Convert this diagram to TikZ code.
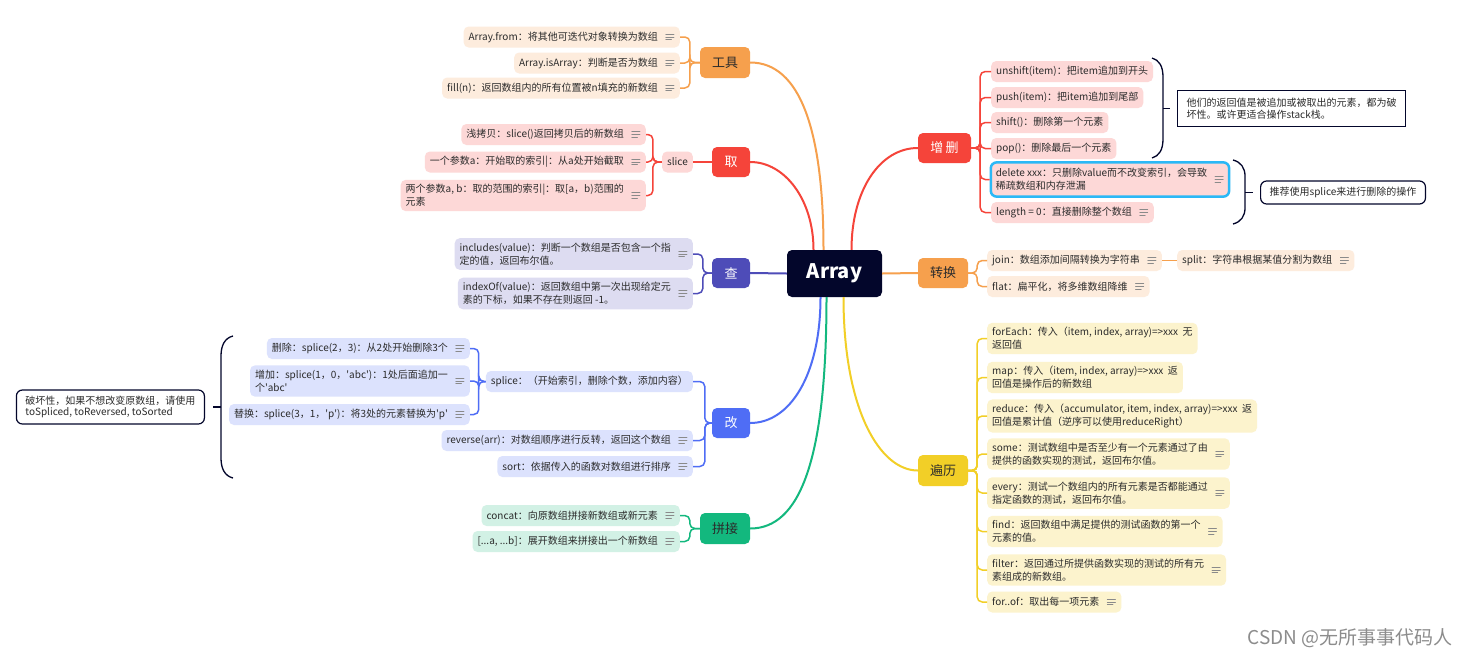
\documentclass[tikz,border=0pt]{standalone}
\usepackage{fontspec}
\setmainfont{Noto Sans CJK SC}
\newfontfamily\qf{Noto Sans CJK SC}
\usetikzlibrary{calc}
\definecolor{navy}{HTML}{03062B}
\definecolor{orgM}{HTML}{F6A04D}
\definecolor{orgL}{HTML}{FDECDD}
\definecolor{redM}{HTML}{F5443A}
\definecolor{redL}{HTML}{FDD8D7}
\definecolor{indM}{HTML}{4E4CB8}
\definecolor{indL}{HTML}{DDDCF1}
\definecolor{bluM}{HTML}{4F6DF5}
\definecolor{bluL}{HTML}{DCE2FD}
\definecolor{grnM}{HTML}{13B87E}
\definecolor{grnL}{HTML}{D2F1E5}
\definecolor{yelM}{HTML}{F2CF27}
\definecolor{yelL}{HTML}{FCF3CD}
\definecolor{cyanB}{HTML}{2BB8F6}
\definecolor{txt}{HTML}{2B2B2B}
\definecolor{icg}{HTML}{8A8A8A}
\newcommand\ico{\hspace*{17pt}}
\newcommand\sq{{\qf'}}
\tikzset{
  mainbox/.style={rounded corners=5pt, minimum height=30pt, inner sep=0pt, font=\fontsize{13}{15}\selectfont},
  item/.style={rounded corners=5pt, align=left, inner xsep=5pt, inner ysep=4.5pt, minimum height=21pt, font=\fontsize{10}{13}\selectfont, text=txt},
  icn/.style={icg, line width=0.9pt, line cap=round},
  ic/.style={path picture={
     \draw[icn] ([xshift=-14pt,yshift=2.7pt]path picture bounding box.east) -- ++(8pt,0pt);
     \draw[icn] ([xshift=-14pt]path picture bounding box.east) -- ++(8pt,0pt);
     \draw[icn] ([xshift=-14pt,yshift=-2.7pt]path picture bounding box.east) -- ++(5.5pt,0pt);}},
  bran/.style={line width=2pt},
  sub/.style={line width=1.5pt, rounded corners=5pt},
  brc/.style={navy, line width=1.3pt},
  note/.style={draw=navy, line width=1.2pt, fill=white, align=left, inner xsep=9pt, inner ysep=4pt, font=\fontsize{10}{11.5}\selectfont, text=txt}
}
\begin{document}
\begin{tikzpicture}[x=1pt,y=-1pt]
\fill[white] (0,0) rectangle (1467,659);
\useasboundingbox (0,0) rectangle (1467,659);

% central and main nodes
\node[mainbox, fill=navy, text=white, minimum width=95pt, minimum height=47pt, font=\fontsize{20}{22}\selectfont\bfseries] (arr) at (834.5,273.5) {Array};
\node[mainbox, fill=orgM, text=txt, minimum width=50pt, minimum height=31pt] (gj) at (725,62.5) {工具};
\node[mainbox, fill=redM, text=white, minimum width=38pt] (qu) at (731,162) {取};
\node[mainbox, fill=indM, text=white, minimum width=38pt] (cha) at (731,273) {查};
\node[mainbox, fill=bluM, text=white, minimum width=38pt] (gai) at (731,423) {改};
\node[mainbox, fill=grnM, text=txt, minimum width=50pt, minimum height=31pt] (pj) at (725,528.5) {拼接};
\node[mainbox, fill=redM, text=white, minimum width=53pt] (zs) at (944.5,148) {增\,删};
\node[mainbox, fill=orgM, text=txt, minimum width=50pt] (zh) at (943,273) {转换};
\node[mainbox, fill=yelM, text=txt, minimum width=50pt, minimum height=31pt] (bl) at (943,470.5) {遍历};

% main branches
\draw[bran, orgM] ([xshift=-11pt]arr.north) .. controls (823.5,130) and (800,62.5) .. (gj.east);
\draw[bran, redM] ([xshift=-21pt]arr.north) .. controls (813.5,200) and (785,162) .. (qu.east);
\draw[bran, indM] (arr.west) -- (cha.east);
\draw[bran, bluM] ([xshift=-14pt]arr.south) .. controls (820.5,375) and (790,423) .. (gai.east);
\draw[bran, grnM] ([xshift=-8pt]arr.south) .. controls (826.5,460) and (800,528.5) .. (pj.east);
\draw[bran, redM] ([xshift=17pt]arr.north) .. controls (851.5,190) and (880,148) .. (zs.west);
\draw[bran, orgM] (arr.east) -- (zh.west);
\draw[bran, yelM] ([xshift=9pt]arr.south) .. controls (843.5,410) and (880,470.5) .. (bl.west);

% tools
\node[item, fill=orgL, ic, anchor=east] (t1) at (680,37) {Array.from：将其他可迭代对象转换为数组\ico};
\node[item, fill=orgL, ic, anchor=east] (t2) at (680,63) {Array.isArray：判断是否为数组\ico};
\node[item, fill=orgL, ic, anchor=east] (t3) at (680,88) {fill(n)：返回数组内的所有位置被n填充的新数组\ico};
\foreach \c in {t1,t2,t3} \draw[sub, orgM] (gj.west) -- ++(-10,0) |- (\c.east);

% qu
\node[item, fill=redL, anchor=east] (sl) at (693,162) {slice};
\draw[sub, redM] (qu.west) -- (sl.east);
\node[item, fill=redL, ic, anchor=east] (q1) at (646,134.5) {浅拷贝：slice()返回拷贝后的新数组\ico};
\node[item, fill=redL, ic, anchor=east] (q2) at (646,162) {一个参数a：开始取的索引|：从a处开始截取\ico};
\node[item, fill=redL, ic, anchor=east] (q3) at (646,195.5) {两个参数a, b：取的范围的索引|：取[a，b)范围的\ico\\元素};
\foreach \c in {q1,q2,q3} \draw[sub, redM] (sl.west) -- ++(-9,0) |- (\c.east);

% cha
\node[item, fill=indL, ic, anchor=east] (c1) at (693,254) {includes(value)：判断一个数组是否包含一个指\ico\\定的值，返回布尔值。};
\node[item, fill=indL, ic, anchor=east] (c2) at (693,293.5) {indexOf(value)：返回数组中第一次出现给定元\ico\\素的下标，如果不存在则返回 -1。};
\foreach \c in {c1,c2} \draw[sub, indM] (cha.west) -- ++(-9,0) |- (\c.east);

% gai
\node[item, fill=bluL, anchor=east] (sp) at (693,381.5) {splice：（开始索引，删除个数，添加内容）};
\node[item, fill=bluL, ic, anchor=east] (g2) at (693,440.5) {reverse(arr)：对数组顺序进行反转，返回这个数组\ico};
\node[item, fill=bluL, ic, anchor=east] (g3) at (693,466.5) {sort：依据传入的函数对数组进行排序\ico};
\foreach \c in {sp,g2,g3} \draw[sub, bluM] (gai.west) -- ++(-7,0) |- (\c.east);
\node[item, fill=bluL, ic, anchor=east] (s1) at (470,348.5) {删除：splice(2，3)：从2处开始删除3个\ico};
\node[item, fill=bluL, ic, anchor=east] (s2) at (470,381) {增加：splice(1，0，\sq abc\sq)：1处后面追加一\ico\\个\sq abc\sq};
\node[item, fill=bluL, ic, anchor=east] (s3) at (470,414.5) {替换：splice(3，1，\sq p\sq)：将3处的元素替换为\sq p\sq\ico};
\foreach \c in {s1,s2,s3} \draw[sub, bluM] (sp.west) -- ++(-7,0) |- (\c.east);

% brace + note for gai
\node[note, rounded corners=6pt, anchor=east, minimum height=34pt] (n1) at (205,407) {破坏性，如果不想改变原数组，请使用\\toSpliced, toReversed, toSorted};
\coordinate (bk1) at (221,407);
\draw[brc] (233,336) .. controls (225,338) and (221,345) .. (221,356) -- (221,458) .. controls (221,469) and (225,476) .. (233,478);
\draw[brc] (bk1) -- ([xshift=8pt]n1.east);

% pinjie
\node[item, fill=grnL, ic, anchor=east] (p1) at (680,515.5) {concat：向原数组拼接新数组或新元素\ico};
\node[item, fill=grnL, ic, anchor=east] (p2) at (680,541.5) {[...a, ...b]：展开数组来拼接出一个新数组\ico};
\foreach \c in {p1,p2} \draw[sub, grnM] (pj.west) -- ++(-10,0) |- (\c.east);

% zengshan
\node[item, fill=redL, anchor=west] (z1) at (991,71.5) {unshift(item)：把item追加到开头};
\node[item, fill=redL, anchor=west] (z2) at (991,97.5) {push(item)：把item追加到尾部};
\node[item, fill=redL, anchor=west] (z3) at (991,122.5) {shift()：删除第一个元素};
\node[item, fill=redL, anchor=west] (z4) at (991,148.5) {pop()：删除最后一个元素};
\node[item, fill=redL, ic, draw=cyanB, line width=2.5pt, rounded corners=6pt, inner ysep=6pt, anchor=west] (z5) at (989.5,179.5) {delete xxx：只删除value而不改变索引，会导致\ico\\稀疏数组和内存泄漏};
\node[item, fill=redL, ic, anchor=west] (z6) at (991,212.5) {length = 0：直接删除整个数组\ico};
\foreach \c in {z1,z2,z3,z4,z5,z6} \draw[sub, redM] (zs.east) -- ++(9,0) |- (\c.west);

\node[note, anchor=west, minimum height=36pt, minimum width=228pt] (n2) at (1177,108.5) {他们的返回值是被追加或被取出的元素，都为破\\坏性。或许更适合操作stack栈。};
\draw[brc] (1152,58) .. controls (1159,60) and (1163,66) .. (1163,77) -- (1163,139) .. controls (1163,150) and (1159,156) .. (1152,158);
\coordinate (bk2) at (1163,108.5);
\draw[brc] (bk2) -- ([xshift=-7pt]n2.west);

\node[note, rounded corners=6pt, anchor=west, minimum height=23pt] (n3) at (1260,192.5) {推荐使用splice来进行删除的操作};
\draw[brc] (1233,160) .. controls (1241,162) and (1245,168) .. (1245,176) -- (1245,208) .. controls (1245,216) and (1241,222) .. (1233,224);
\coordinate (bk3) at (1245,192.5);
\draw[brc] (bk3) -- ([xshift=-7pt]n3.west);

% zhuanhuan
\node[item, fill=orgL, ic, anchor=west] (h1) at (987,260.5) {join：数组添加间隔转换为字符串\ico};
\node[item, fill=orgL, ic, anchor=west] (h2) at (987,286.5) {flat：扁平化，将多维数组降维\ico};
\node[item, fill=orgL, ic, anchor=west] (h3) at (1177,260.5) {split：字符串根据某值分割为数组\ico};
\foreach \c in {h1,h2} \draw[sub, orgM] (zh.east) -- ++(9,0) |- (\c.west);
\draw[sub, orgM] (h1.east) -- (h3.west);

% bianli
\node[item, fill=yelL, anchor=west] (b1) at (987,338.5) {forEach：传入（item, index, array)=>xxx~~无\\返回值};
\node[item, fill=yelL, anchor=west] (b2) at (987,377.5) {map：传入（item, index, array)=>xxx~~返\\回值是操作后的新数组};
\node[item, fill=yelL, anchor=west] (b3) at (987,416) {reduce：传入（accumulator, item, index, array)=>xxx~~返\\回值是累计值（逆序可以使用reduceRight）};
\node[item, fill=yelL, ic, anchor=west] (b4) at (987,454) {some：测试数组中是否至少有一个元素通过了由\ico\\提供的函数实现的测试，返回布尔值。};
\node[item, fill=yelL, ic, anchor=west] (b5) at (987,493) {every：测试一个数组内的所有元素是否都能通过\ico\\指定函数的测试，返回布尔值。};
\node[item, fill=yelL, ic, anchor=west] (b6) at (987,531.5) {find：返回数组中满足提供的测试函数的第一个\ico\\元素的值。};
\node[item, fill=yelL, ic, anchor=west] (b7) at (987,570) {filter：返回通过所提供函数实现的测试的所有元\ico\\素组成的新数组。};
\node[item, fill=yelL, ic, anchor=west] (b8) at (987,602) {for..of：取出每一项元素\ico};
\foreach \c in {b1,b2,b3,b4,b5,b6,b7,b8} \draw[sub, yelM] (bl.east) -- ++(9,0) |- (\c.west);

% watermark
\node[anchor=east, text=black!45, font=\fontsize{19}{21}\selectfont, inner sep=0pt] (wm) at (1453,638) {CSDN @无所事事代码人};
\end{tikzpicture}
\end{document}
